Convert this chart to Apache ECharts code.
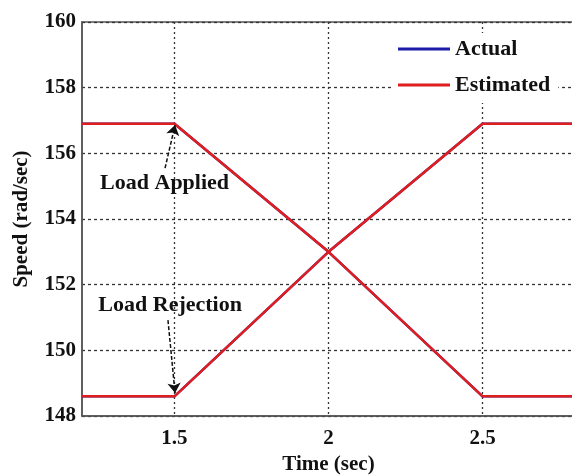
<!DOCTYPE html>
<html>
<head>
<meta charset="utf-8">
<script src="https://cdn.jsdelivr.net/npm/echarts@6/dist/echarts.min.js"></script>
<style>
  html, body { margin: 0; padding: 0; background: #fff; }
  #chart { width: 572px; height: 475px; }
</style>
</head>
<body>
<div id="chart"></div>
<script>
// 数据
const timeSec = [1.2, 1.5, 2.0, 2.5, 2.8];
const speedRise = [148.6, 148.6, 153.0, 156.9, 156.9];
const speedFall = [156.9, 156.9, 153.0, 148.6, 148.6];
const xTicks = [1.5, 2, 2.5];
// 注释：文字位置 + 箭头起止
const noteText = ['Load Applied', 'Load Rejection'];
const notePos = [[1.468, 155.1], [1.486, 151.38]];
const arrowFrom = [[1.4695, 155.55], [1.479, 150.92]];
const arrowTo = [[1.502, 156.86], [1.502, 148.7]];

const serif = 'Liberation Serif, Times New Roman, serif';
const pair = (ys) => timeSec.map((t, i) => [t, ys[i]]);

const chart = echarts.init(document.getElementById('chart'));

const lineSeries = (name, ys, color, extra) => Object.assign({
  name: name,
  type: 'line',
  data: pair(ys),
  symbol: 'none',
  animation: false,
  lineStyle: { color: color, width: 2.5 },
  itemStyle: { color: color },
}, extra || {});

const option = {
  backgroundColor: '#fff',
  grid: {
    left: 82, top: 22, right: -3, bottom: 59,
    outerBoundsMode: 'none',
    show: true, borderColor: '#555', borderWidth: 1.5,
  },
  legend: {
    orient: 'vertical',
    left: 392,
    top: 33,
    backgroundColor: '#fff',
    padding: [4, 8, 6, 6],
    itemWidth: 52,
    itemHeight: 3,
    itemGap: 12,
    icon: 'rect',
    data: ['Actual', 'Estimated'],
    textStyle: { fontFamily: serif, fontWeight: 'bold', fontSize: 22, color: '#111', lineHeight: 24 },
  },
  xAxis: {
    type: 'value',
    min: 1.2,
    max: 2.8,
    name: 'Time (sec)',
    nameLocation: 'middle',
    nameGap: 36,
    nameTextStyle: { fontFamily: serif, fontWeight: 'bold', fontSize: 21, color: '#111' },
    axisLine: { show: true, lineStyle: { color: '#555', width: 1.5 } },
    axisTick: { show: false, customValues: xTicks },
    axisLabel: {
      customValues: xTicks,
      margin: 12,
      fontFamily: serif, fontWeight: 'bold', fontSize: 21, color: '#111',
    },
    splitLine: {
      show: true,
      customValues: xTicks,
      lineStyle: { color: '#333', type: [2, 3], width: 1.3 },
    },
  },
  yAxis: {
    type: 'value',
    min: 148,
    max: 160,
    interval: 2,
    name: 'Speed (rad/sec)',
    nameLocation: 'middle',
    nameGap: 50,
    nameTextStyle: { fontFamily: serif, fontWeight: 'bold', fontSize: 21, color: '#111' },
    axisLine: { show: true, lineStyle: { color: '#555', width: 1.5 } },
    axisTick: { show: false },
    axisLabel: {
      margin: 6,
      fontFamily: serif, fontWeight: 'bold', fontSize: 21, color: '#111',
    },
    splitLine: { show: true, lineStyle: { color: '#333', type: [3, 3], width: 1.3 } },
  },
  series: [
    lineSeries('Actual', speedFall, '#1c1ca8'),
    lineSeries('Actual', speedRise, '#1c1ca8'),
    lineSeries('Estimated', speedFall, '#e01e1e'),
    lineSeries('Estimated', speedRise, '#e01e1e', {
      markLine: {
        silent: true,
        animation: false,
        symbol: ['none', 'arrow'],
        symbolSize: 10,
        label: { show: false },
        lineStyle: { color: '#111', type: [4, 2], width: 1.5 },
        data: arrowFrom.map((p, i) => [{ coord: p }, { coord: arrowTo[i] }]),
      },
      markPoint: {
        silent: true,
        animation: false,
        symbol: 'circle',
        symbolSize: 0,
        data: noteText.map((s, i) => ({
          coord: notePos[i],
          label: {
            show: true,
            position: 'inside',
            formatter: s,
            fontFamily: serif, fontWeight: 'bold', fontSize: 22, color: '#111',
          },
        })),
      },
    }),
  ],
};

chart.setOption(option);
</script>
</body>
</html>
